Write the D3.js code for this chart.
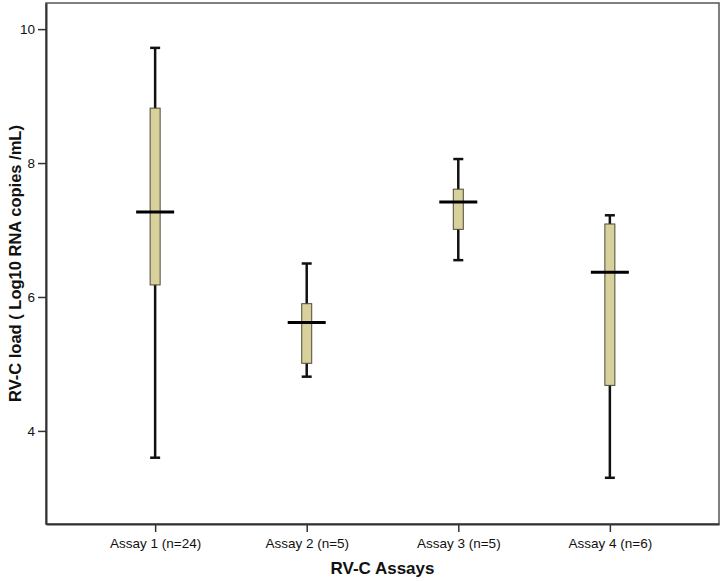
<!DOCTYPE html>
<html>
<head>
<meta charset="utf-8">
<script src="https://cdn.jsdelivr.net/npm/d3@7"></script>
<style>
  body { margin: 0; background: #fff; }
  svg { font-family: Arial, "Liberation Sans", sans-serif; }
</style>
</head>
<body>
<svg id="chart"></svg>
<script>
const width = 722;
const height = 581;

// data
const assays = ['Assay 1 (n=24)', 'Assay 2 (n=5)', 'Assay 3 (n=5)', 'Assay 4 (n=6)'];
const whiskerLow = [3.6, 4.81, 6.55, 3.3];
const boxLow = [6.18, 5.01, 7.01, 4.68];
const medians = [7.27, 5.62, 7.42, 6.37];
const boxHigh = [8.82, 5.9, 7.61, 7.09];
const whiskerHigh = [9.72, 6.5, 8.06, 7.22];
const yTicks = [4, 6, 8, 10];

const plotLeft = 46, plotRight = 719, plotTop = 3, plotBottom = 524;

const svg = d3.select('#chart')
            .attr('width', width)
            .attr('height', height);

const x = d3.scalePoint().domain(assays).range([plotLeft, plotRight]).padding(0.72);
const y = d3.scaleLinear().domain([2.61, 10.39]).range([plotBottom, plotTop]);

const rows = assays.map((a, i) => ({
    name: a,
    lo: whiskerLow[i], q1: boxLow[i], med: medians[i], q3: boxHigh[i], hi: whiskerHigh[i]
}));

// frame
svg.append('rect')
    .attr('x', plotLeft).attr('y', plotTop)
    .attr('width', plotRight - plotLeft).attr('height', plotBottom - plotTop)
    .attr('fill', 'none')
    .attr('stroke', '#555')
    .attr('stroke-width', 1.5);

// axes
const yAxis = svg.append('g')
    .attr('transform', `translate(${plotLeft},0)`)
    .call(d3.axisLeft(y).tickValues(yTicks).tickSize(8).tickSizeOuter(0).tickPadding(3));

const xAxis = svg.append('g')
    .attr('transform', `translate(0,${plotBottom})`)
    .call(d3.axisBottom(x).tickSize(8).tickSizeOuter(0).tickPadding(6));

[yAxis, xAxis].forEach(ax => {
    ax.select('.domain').attr('stroke', '#333').attr('stroke-width', 2);
    ax.selectAll('.tick line').attr('stroke', '#333').attr('stroke-width', 1.5);
    ax.selectAll('.tick text')
        .attr('fill', '#111')
        .style('font-size', '13.5px')
        .style('font-family', 'Arial, "Liberation Sans", sans-serif');
});

// boxes
const g = svg.append('g');
const boxW = 10, capW = 10, medW = 38;

const groups = g.selectAll('.box')
    .data(rows)
    .enter()
    .append('g')
    .attr('class', 'box')
    .attr('transform', d => `translate(${x(d.name)},0)`);

groups.append('line')
    .attr('x1', 0).attr('x2', 0)
    .attr('y1', d => y(d.lo)).attr('y2', d => y(d.hi))
    .attr('stroke', '#111').attr('stroke-width', 2.5);

groups.append('line')
    .attr('x1', -capW / 2).attr('x2', capW / 2)
    .attr('y1', d => y(d.hi)).attr('y2', d => y(d.hi))
    .attr('stroke', '#111').attr('stroke-width', 2.5);

groups.append('line')
    .attr('x1', -capW / 2).attr('x2', capW / 2)
    .attr('y1', d => y(d.lo)).attr('y2', d => y(d.lo))
    .attr('stroke', '#111').attr('stroke-width', 2.5);

groups.append('rect')
    .attr('x', -boxW / 2)
    .attr('y', d => y(d.q3))
    .attr('width', boxW)
    .attr('height', d => y(d.q1) - y(d.q3))
    .attr('fill', '#d8d19c')
    .attr('stroke', '#4a4a3a')
    .attr('stroke-width', 1);

groups.append('line')
    .attr('x1', -medW / 2).attr('x2', medW / 2)
    .attr('y1', d => y(d.med)).attr('y2', d => y(d.med))
    .attr('stroke', '#000').attr('stroke-width', 3);

// axis titles
svg.append('text')
    .attr('x', (plotLeft + plotRight) / 2)
    .attr('y', 574)
    .attr('text-anchor', 'middle')
    .style('font-size', '17px')
    .style('font-weight', 'bold')
    .attr('fill', '#111')
    .text('RV-C Assays');

svg.append('text')
    .attr('transform', `translate(21,${(plotTop + plotBottom) / 2}) rotate(-90)`)
    .attr('text-anchor', 'middle')
    .style('font-size', '16.5px')
    .style('font-weight', 'bold')
    .attr('fill', '#111')
    .text('RV-C load ( Log10 RNA copies /mL)');
</script>
</body>
</html>
